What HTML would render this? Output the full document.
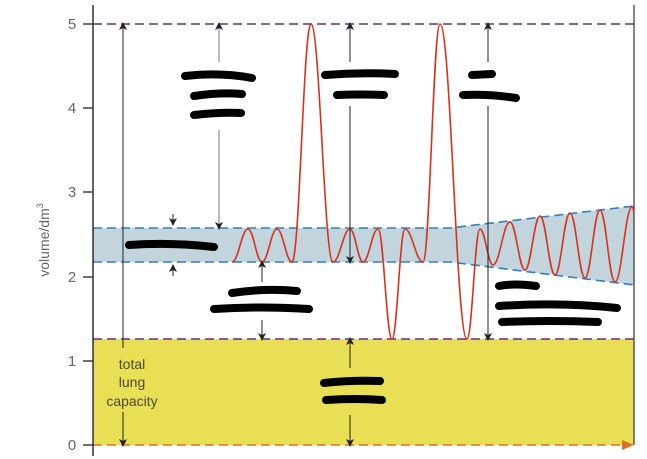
<!DOCTYPE html>
<html><head><meta charset="utf-8"><style>
html,body{margin:0;padding:0;background:#fff;}
svg{display:block;font-family:"Liberation Sans",sans-serif;}
</style></head><body>
<svg width="647" height="459" viewBox="0 0 647 459" xmlns="http://www.w3.org/2000/svg">
<defs>
<marker id="ah" markerWidth="8" markerHeight="8" refX="4" refY="4" orient="auto-start-reverse" markerUnits="userSpaceOnUse">
<path d="M0,0 L8,4 L0,8 L2,4 Z" fill="#222"/>
</marker>
</defs>
<rect x="0" y="0" width="647" height="459" fill="#fff"/>
<rect x="93" y="339" width="541" height="106" fill="#e8df55"/>
<polygon points="93,228 450,228 634,206 634,285 450,262 93,262" fill="#c2d4dc"/>
<path d="M93,228 L450,228 L634,206" fill="none" stroke="#2f7fc1" stroke-width="1.6" stroke-dasharray="9,5"/>
<path d="M93,262 L450,262 L634,285" fill="none" stroke="#2f7fc1" stroke-width="1.6" stroke-dasharray="9,5"/>
<line x1="93" y1="24" x2="634" y2="24" stroke="#6a2a80" stroke-width="1.6" stroke-dasharray="9,5"/>
<line x1="93" y1="339" x2="634" y2="339" stroke="#6a2a80" stroke-width="1.6" stroke-dasharray="9,5"/>
<line x1="93" y1="445" x2="624" y2="445" stroke="#e07020" stroke-width="1.6" stroke-dasharray="9,5"/>
<path d="M622,440 L634,445 L622,450 Z" fill="#e07020"/>
<line x1="634" y1="5" x2="634" y2="445" stroke="#333" stroke-width="1.2"/>
<line x1="93" y1="5" x2="93" y2="456" stroke="#222" stroke-width="1.4"/>
<g stroke="#333" stroke-width="1.4">
<line x1="83" y1="24" x2="93" y2="24"/><line x1="83" y1="108" x2="93" y2="108"/>
<line x1="83" y1="192" x2="93" y2="192"/><line x1="83" y1="277" x2="93" y2="277"/>
<line x1="83" y1="361" x2="93" y2="361"/><line x1="83" y1="445" x2="93" y2="445"/>
</g>
<g fill="#666" font-size="15" text-anchor="middle">
<text x="72" y="29">5</text><text x="72" y="113">4</text><text x="72" y="197">3</text>
<text x="72" y="282">2</text><text x="72" y="366">1</text><text x="72" y="450">0</text>
</g>
<text transform="translate(49,240) rotate(-90)" fill="#666" font-size="14" text-anchor="middle">volume/dm<tspan font-size="9" dy="-6">3</tspan></text>
<path d="M232,262 C238.4,262 241.6,229 248,229 C253.6,229 256.4,262 262,262 C268,262 271,229 277,229 C283,229 286,262 292,262 C299.6,262 303.4,24 311,24 C319.8,24 324.2,262 333,262 C339.8,262 343.2,229 350,229 C355.2,229 357.8,262 363,262 C369,262 372,229 378,229 C383.6,229 386.4,339 392,339 C397.2,339 399.8,229 405,229 C412.2,229 415.8,262 423,262 C429.8,262 433.2,24 440,24 C450.8,24 456.2,339 467,339 C472.2,339 474.8,229 480,229 C485.2,229 487.8,265 493,265 C499.8,265 503.2,222 510,222 C516,222 519,270 525,270 C531,270 534,216 540,216 C546,216 549,275 555,275 C561,275 564,213 570,213 C576,213 579,278 585,278 C591,278 594,210 600,210 C606,210 609,282 615,282 C621.8,282 625.2,207 632,207 C633,207 633.5,210 634,213" fill="none" stroke="#d8321e" stroke-width="1.6"/>
<g stroke="#222" stroke-width="1" fill="none">
<line x1="123" y1="26" x2="123" y2="348" marker-start="url(#ah)"/>
<line x1="123" y1="412" x2="123" y2="443" marker-end="url(#ah)"/>
<line x1="219" y1="26" x2="219" y2="62" marker-start="url(#ah)" stroke="#777"/>
<line x1="219" y1="130" x2="219" y2="226" marker-end="url(#ah)" stroke="#777"/>
<line x1="350" y1="26" x2="350" y2="62" marker-start="url(#ah)"/>
<line x1="350" y1="106" x2="350" y2="260" marker-end="url(#ah)"/>
<line x1="488" y1="26" x2="488" y2="62" marker-start="url(#ah)"/>
<line x1="488" y1="106" x2="488" y2="337" marker-end="url(#ah)"/>
<line x1="262" y1="264" x2="262" y2="282" marker-start="url(#ah)"/>
<line x1="262" y1="320" x2="262" y2="337" marker-end="url(#ah)"/>
<line x1="350" y1="341" x2="350" y2="368" marker-start="url(#ah)"/>
<line x1="350" y1="415" x2="350" y2="443" marker-end="url(#ah)"/>
<line x1="173" y1="214" x2="173" y2="222" marker-end="url(#ah)"/>
<line x1="173" y1="276" x2="173" y2="268" marker-end="url(#ah)"/>
</g>
<g fill="#4a4a30" font-size="14" text-anchor="middle">
<text x="132" y="369">total</text><text x="132" y="387">lung</text><text x="132" y="406">capacity</text>
</g>
<g stroke="#000" stroke-width="8" stroke-linecap="round" fill="none">
<path d="M185,76 Q220,72 252,78"/><path d="M194,96 Q220,92 242,94"/><path d="M194,115 Q220,112 241,113"/>
<path d="M325,75 Q360,72 395,74"/><path d="M337,95 Q360,94 384,95"/>
<path d="M472,75 L492,74"/><path d="M463,95 Q490,94 516,98"/>
<path d="M129,245 Q170,242 214,247"/>
<path d="M232,293 Q265,288 297,291"/><path d="M214,309 Q260,306 309,309"/>
<path d="M499,286 Q515,283 536,286"/><path d="M499,306 Q560,302 617,308"/><path d="M502,322 Q550,320 598,322"/>
<path d="M324,383 Q350,380 380,381"/><path d="M326,400 Q355,398 382,400"/>
</g>
</svg>
</body></html>
